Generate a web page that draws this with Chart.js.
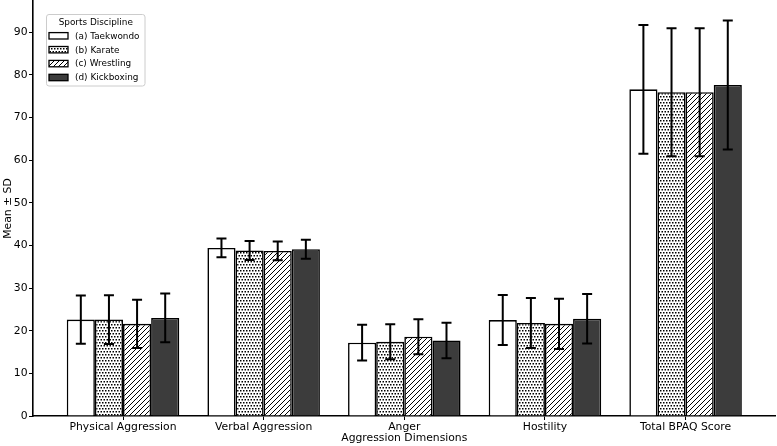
<!DOCTYPE html>
<html>
<head>
<meta charset="utf-8">
<script src="https://cdn.jsdelivr.net/npm/chart.js@4"></script>
<style>
  html, body { margin: 0; padding: 0; background: #fff; }
  #wrap { width: 777px; height: 446px; }
</style>
</head>
<body>
<div id="wrap"><canvas id="bpaqChart" width="777" height="446"></canvas></div>
<script>
const categories = ["Physical Aggression", "Verbal Aggression", "Anger", "Hostility", "Total BPAQ Score"];
const disciplines = ["(a) Taekwondo", "(b) Karate", "(c) Wrestling", "(d) Kickboxing"];

const taekwondoMean = [22.6, 39.4, 17.2, 22.5, 76.6];
const taekwondoSd = [5.65, 2.2, 4.2, 5.85, 15.1];
const karateMean = [22.6, 38.8, 17.4, 21.8, 75.9];
const karateSd = [5.7, 2.25, 4.1, 5.85, 15.0];
const wrestlingMean = [21.6, 38.7, 18.6, 21.6, 75.9];
const wrestlingSd = [5.65, 2.2, 4.1, 5.9, 15.0];
const kickboxingMean = [23.0, 39.1, 17.7, 22.8, 77.6];
const kickboxingSd = [5.7, 2.25, 4.15, 5.8, 15.1];

const yTicks = [0, 10, 20, 30, 40, 50, 60, 70, 80, 90];

const FONT = "'DejaVu Sans', sans-serif";

function makePattern(draw, w, h) {
  const c = document.createElement("canvas");
  c.width = w; c.height = h;
  const g = c.getContext("2d");
  g.fillStyle = "#fff";
  g.fillRect(0, 0, w, h);
  draw(g);
  return c.getContext("2d").createPattern(c, "repeat");
}

const dotFill = makePattern(g => {
  g.fillStyle = "#000";
  g.fillRect(0, 0, 1.5, 1.5);
  g.fillRect(3, 0, 1.5, 1.5);
  g.fillRect(1.5, 3, 1.5, 1.5);
  g.fillRect(4.5, 3, 1.5, 1.5);
}, 6, 6);

const hatchFill = makePattern(g => {
  g.strokeStyle = "#000";
  g.lineWidth = 1;
  g.beginPath();
  g.moveTo(0, 5); g.lineTo(5, 0);
  g.moveTo(-1, 1); g.lineTo(1, -1);
  g.moveTo(4, 6); g.lineTo(6, 4);
  g.stroke();
}, 5, 5);

const means = [taekwondoMean, karateMean, wrestlingMean, kickboxingMean];
const sds = [taekwondoSd, karateSd, wrestlingSd, kickboxingSd];
const fills = ["#ffffff", dotFill, hatchFill, "#3c3c3c"];

const errorBars = {
  id: "errorBars",
  afterDatasetsDraw(chart) {
    const { ctx } = chart;
    const y = chart.scales.y;
    ctx.save();
    ctx.strokeStyle = "#000";
    ctx.lineWidth = 2;
    chart.data.datasets.forEach((ds, i) => {
      chart.getDatasetMeta(i).data.forEach((bar, j) => {
        const m = ds.data[j].y, s = ds.sd[j];
        const top = y.getPixelForValue(m + s);
        const bot = y.getPixelForValue(m - s);
        ctx.beginPath();
        ctx.moveTo(bar.x, top); ctx.lineTo(bar.x, bot);
        ctx.moveTo(bar.x - 5, top); ctx.lineTo(bar.x + 5, top);
        ctx.moveTo(bar.x - 5, bot); ctx.lineTo(bar.x + 5, bot);
        ctx.stroke();
      });
    });
    ctx.restore();
  }
};

// legend box in the top left corner, like matplotlib's
const boxLegend = {
  id: "boxLegend",
  afterDraw(chart) {
    const { ctx } = chart;
    const x0 = 46.5, y0 = 14.5, w = 98.5, h = 71.5;
    ctx.save();
    ctx.beginPath();
    ctx.roundRect(x0, y0, w, h, 2.5);
    ctx.fillStyle = "rgba(255,255,255,0.8)";
    ctx.fill();
    ctx.strokeStyle = "#cccccc";
    ctx.lineWidth = 1;
    ctx.stroke();

    ctx.fillStyle = "#000";
    ctx.font = "8.9px " + FONT;
    ctx.textBaseline = "middle";
    ctx.textAlign = "center";
    ctx.fillText("Sports Discipline", x0 + w / 2, 22.5);

    ctx.textAlign = "left";
    chart.data.datasets.forEach((ds, i) => {
      const cy = 35.8 + i * 13.9;
      ctx.fillStyle = ds.backgroundColor;
      ctx.fillRect(49, cy - 3.2, 19, 6.4);
      ctx.strokeStyle = "#000";
      ctx.lineWidth = 1.3;
      ctx.strokeRect(49, cy - 3.2, 19, 6.4);
      ctx.fillStyle = "#000";
      ctx.fillText(ds.label, 75, cy + 0.5);
    });
    ctx.restore();
  }
};

new Chart(document.getElementById("bpaqChart"), {
  type: "bar",
  data: {
    datasets: disciplines.map((name, i) => ({
      label: name,
      data: categories.map((c, j) => ({ x: j, y: means[i][j] })),
      sd: sds[i],
      backgroundColor: fills[i],
      borderColor: "#000",
      borderWidth: 1.6,
      categoryPercentage: 0.8,
      barPercentage: 1.0
    }))
  },
  options: {
    responsive: false,
    animation: false,
    devicePixelRatio: 1,
    layout: { padding: { top: 1, right: 1.4, left: 0, bottom: 0 } },
    plugins: {
      legend: { display: false },
      tooltip: { enabled: false }
    },
    scales: {
      x: {
        type: "linear",
        min: -0.64,
        max: 4.64,
        offset: false,
        afterBuildTicks: s => { s.ticks = categories.map((c, j) => ({ value: j })); },
        afterFit: s => { s.height = 30; s.paddingLeft = 0; s.paddingRight = 0; },
        ticks: {
          color: "#000",
          font: { family: FONT, size: 10.8 },
          padding: 1,
          maxRotation: 0,
          autoSkip: false,
          callback: (v, idx) => categories[idx]
        },
        grid: { drawOnChartArea: false, offset: false, color: "#000", tickLength: 4 },
        border: { display: true, color: "#000", width: 1.6 },
        title: {
          display: true,
          text: "Aggression Dimensions",
          color: "#000",
          font: { family: FONT, size: 10.8 },
          padding: { top: 0, bottom: 1.4 }
        }
      },
      y: {
        min: 0,
        max: 97.3,
        afterBuildTicks: s => { s.ticks = yTicks.map(v => ({ value: v })); },
        afterFit: s => { s.width = 33; s.paddingTop = 0; s.paddingBottom = 0; },
        ticks: {
          color: "#000",
          font: { family: FONT, size: 10.8 },
          padding: 1.5
        },
        grid: { drawOnChartArea: false, color: "#000", tickLength: 4 },
        border: { display: true, color: "#000", width: 1.6 },
        title: {
          display: true,
          text: "Mean ± SD",
          color: "#000",
          font: { family: FONT, size: 10.8 },
          padding: { top: 1.4, bottom: 0 }
        }
      }
    }
  },
  plugins: [errorBars, boxLegend]
});
</script>
</body>
</html>
